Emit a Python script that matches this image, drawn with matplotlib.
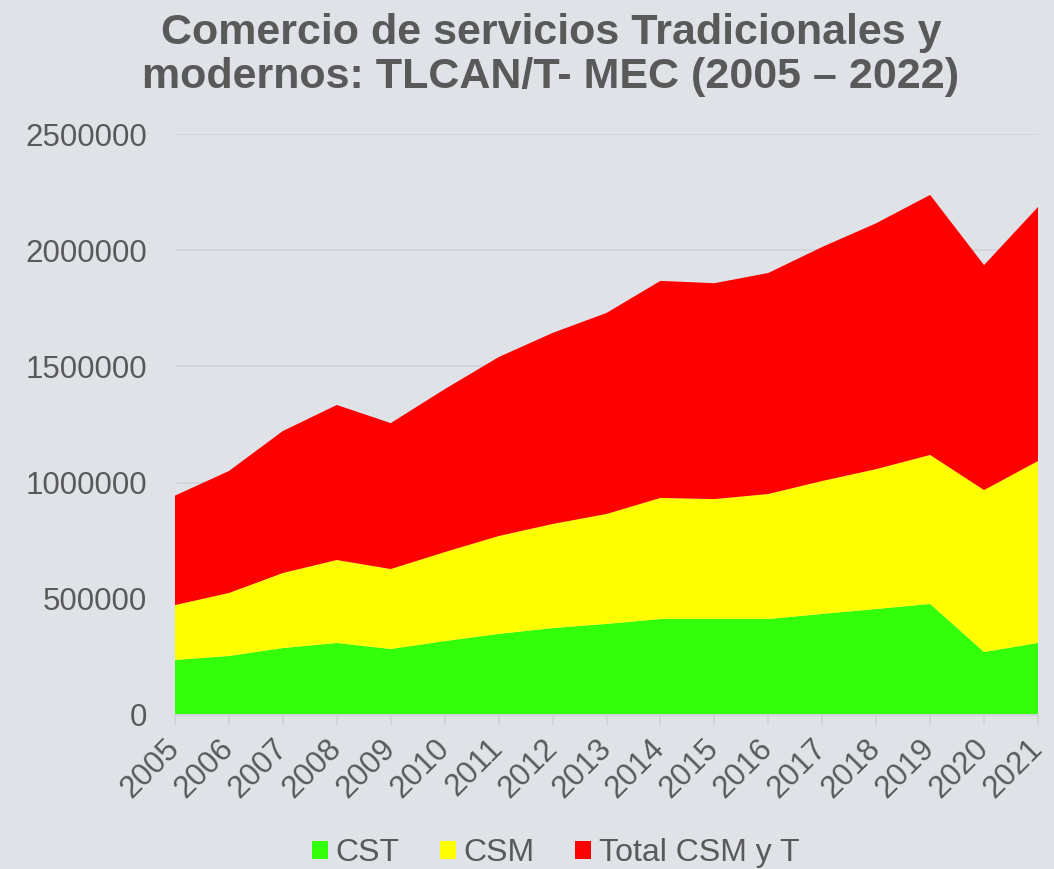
import matplotlib.pyplot as plt
from matplotlib.patches import Patch

years = list(range(2005, 2022))
cst = [237000, 254000, 288000, 310000, 284000, 318000, 349000, 374000, 392000,
       413000, 413000, 413000, 435000, 456000, 478000, 271000, 310000]
csm = [236000, 271000, 323000, 357000, 344000, 383000, 421000, 448000, 473000,
       521000, 516000, 538000, 572000, 602000, 641000, 697000, 783000]
total = [471000, 525000, 611000, 667000, 628000, 701000, 770000, 822000, 865000,
         934000, 929000, 951000, 1007000, 1058000, 1119000, 968000, 1093000]
labels = ['CST', 'CSM', 'Total CSM y T']
colors = ['#33ff0a', '#ffff00', '#ff0000']

bg = '#dfe3e7'
txt = '#595959'
plt.rcParams['font.family'] = ['Liberation Sans', 'DejaVu Sans']

fig = plt.figure(figsize=(10.54, 8.69), dpi=100, facecolor=bg)
ax = fig.add_axes([175/1054, 1-715/869, (1038-175)/1054, (715-134)/869])
ax.set_facecolor(bg)

ax.stackplot(years, cst, csm, total, colors=colors, linewidth=0, zorder=2)

ax.set_xlim(2005, 2021)
ax.set_ylim(0, 2500000)
ax.set_yticks(range(0, 2500001, 500000))
ax.set_yticklabels([str(v) for v in range(0, 2500001, 500000)])
ax.set_xticks(years)
ax.set_xticklabels([str(y) for y in years], rotation=45, ha='right',
                   va='center', rotation_mode='anchor')
ax.grid(axis='y', color='#d0d3d7', linewidth=1.2, zorder=0)
for s in ['top', 'right', 'left']:
    ax.spines[s].set_visible(False)
ax.spines['bottom'].set_color('#d0d3d7')
ax.spines['bottom'].set_linewidth(1.5)
ax.tick_params(axis='y', length=0, labelsize=22.5, colors=txt, pad=20)
ax.tick_params(axis='x', length=7, width=1.5, color='#d0d3d7', labelsize=22.5,
               labelcolor=txt, pad=14)

fig.text(551/1054, 1 - 55/869, 'Comercio de servicios Tradicionales y\nmodernos: TLCAN/T- MEC (2005 – 2022)',
         ha='center', va='center', fontsize=31, fontweight='bold', color=txt,
         linespacing=1.12)

handles = [Patch(facecolor=c, edgecolor='none') for c in colors]
fig.legend(handles, labels, loc='center', bbox_to_anchor=(0.527, 1 - 853/869),
           ncol=3, frameon=False, fontsize=23, labelcolor=txt,
           handlelength=0.5, handleheight=0.5, handletextpad=0.25,
           columnspacing=1.25, borderpad=0)

fig.savefig('out.png', dpi=100, facecolor=bg)
